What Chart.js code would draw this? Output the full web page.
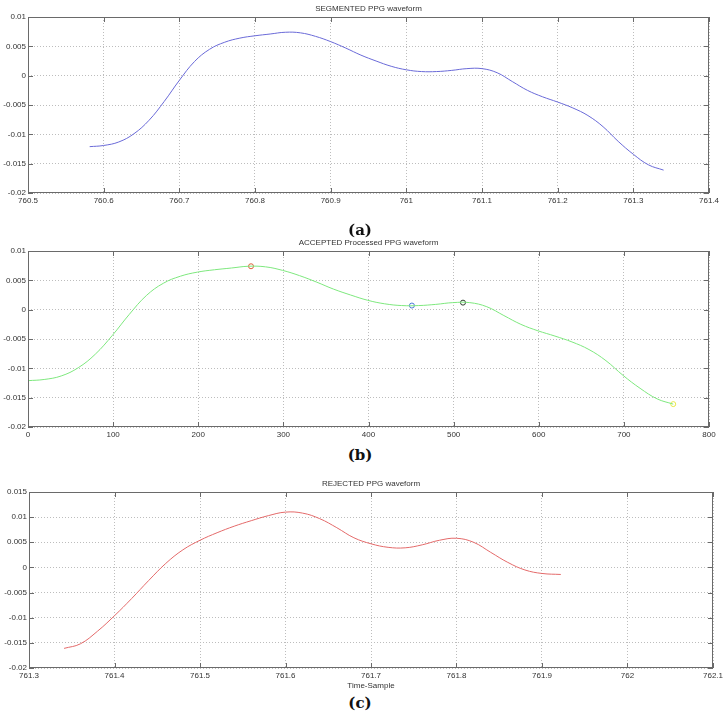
<!DOCTYPE html>
<html>
<head>
<meta charset="utf-8">
<script src="https://cdn.jsdelivr.net/npm/chart.js@4.4.1/dist/chart.umd.min.js"></script>
<style>
	body { margin: 0; background: #fff; }
	#page { position: relative; width: 727px; height: 721px; overflow: hidden; }
	canvas { position: absolute; left: 0; }
	.caption {
		position: absolute; left: 0; width: 720px; text-align: center;
		font: bold 15px "DejaVu Serif", serif; color: #111; line-height: 18px;
	}
</style>
</head>
<body>
<div id="page">
	<canvas id="segmented" width="727" height="212" style="top:0px"></canvas>
	<canvas id="accepted" width="727" height="212" style="top:234px"></canvas>
	<canvas id="rejected" width="727" height="216" style="top:475px"></canvas>
	<div class="caption" style="top:221px">(a)</div>
	<div class="caption" style="top:446px">(b)</div>
	<div class="caption" style="top:694px">(c)</div>
</div>
<script>
// (a) segmented waveform, time in s
const segTime = [760.5815, 760.60, 760.62, 760.64, 760.66, 760.68, 760.70, 760.72, 760.74, 760.76, 760.78, 760.80, 760.82, 760.84, 760.86, 760.88, 760.90, 760.92, 760.94, 760.96, 760.98, 761.00, 761.02, 761.04, 761.06, 761.08, 761.10, 761.12, 761.14, 761.16, 761.18, 761.20, 761.22, 761.24, 761.26, 761.28, 761.30, 761.32, 761.34]
const segValue = [-0.0121, -0.0119, -0.0113, -0.0099, -0.0076, -0.0044, -0.0008, 0.0024, 0.0045, 0.0057, 0.0064, 0.0068, 0.0071, 0.0074, 0.0073, 0.0067, 0.0058, 0.0047, 0.0035, 0.0025, 0.0016, 0.0010, 0.0007, 0.0007, 0.0009, 0.0012, 0.0012, 0.0005, -0.0010, -0.0025, -0.0036, -0.0045, -0.0055, -0.0068, -0.0087, -0.0112, -0.0134, -0.0152, -0.0161]

// (b) accepted processed waveform, sample index
const accSample = [0, 19, 39, 59, 79, 99, 119, 139, 159, 179, 199, 219, 239, 259, 279, 299, 319, 339, 359, 379, 399, 419, 439, 459, 479, 499, 519, 539, 559, 579, 599, 619, 639, 659, 679, 699, 719, 739, 758]
const accValue = [-0.0121, -0.0119, -0.0113, -0.0099, -0.0076, -0.0044, -0.0008, 0.0024, 0.0045, 0.0057, 0.0064, 0.0068, 0.0071, 0.0074, 0.0073, 0.0067, 0.0058, 0.0047, 0.0035, 0.0025, 0.0016, 0.0010, 0.0007, 0.0007, 0.0009, 0.0012, 0.0012, 0.0005, -0.0010, -0.0025, -0.0036, -0.0045, -0.0055, -0.0068, -0.0087, -0.0112, -0.0134, -0.0152, -0.0161]
// fiducial markers on (b)
const markSample = [262, 451, 511, 758]
const markValue = [0.0074, 0.0007, 0.0012, -0.0161]
const markColor = ["#e0603a", "#4a78d8", "#2f3f2f", "#e8e84a"]

// (c) rejected waveform, time in s
const rejTime = [761.341, 761.36, 761.38, 761.40, 761.42, 761.44, 761.46, 761.48, 761.50, 761.52, 761.54, 761.56, 761.58, 761.60, 761.62, 761.64, 761.66, 761.68, 761.70, 761.72, 761.74, 761.76, 761.78, 761.80, 761.82, 761.84, 761.86, 761.88, 761.90, 761.922]
const rejValue = [-0.0161, -0.0152, -0.0127, -0.0096, -0.0062, -0.0026, 0.0008, 0.0035, 0.0054, 0.0069, 0.0082, 0.0093, 0.0103, 0.0110, 0.0108, 0.0097, 0.0079, 0.0059, 0.0047, 0.0040, 0.0039, 0.0045, 0.0054, 0.0058, 0.0050, 0.0030, 0.0010, -0.0005, -0.0012, -0.0014]

const FONT = "Liberation Sans"
const TEXT = "#333"

function toPoints(xs, ys) {
	return xs.map((x, i) => ({ x: x, y: ys[i] }))
}

function fmt(v) {
	return String(Number(v.toFixed(4)))
}

// matlab style box, inward ticks and title over the plot
const matlabBox = {
	id: "matlabBox",
	afterDraw(chart, args, opts) {
		const ctx = chart.ctx
		const a = chart.chartArea
		const sx = chart.scales.x
		const sy = chart.scales.y
		ctx.save()
		ctx.strokeStyle = "#6a6a6a"
		ctx.lineWidth = 1
		ctx.strokeRect(a.left + 0.5, a.top + 0.5, a.right - a.left - 1, a.bottom - a.top - 1)
		ctx.beginPath()
		sy.ticks.forEach(t => {
			const y = Math.round(sy.getPixelForValue(t.value)) + 0.5
			ctx.moveTo(a.left, y); ctx.lineTo(a.left + 5, y)
			ctx.moveTo(a.right - 5, y); ctx.lineTo(a.right, y)
		})
		sx.ticks.forEach(t => {
			const x = Math.round(sx.getPixelForValue(t.value)) + 0.5
			ctx.moveTo(x, a.bottom); ctx.lineTo(x, a.bottom - 5)
			ctx.moveTo(x, a.top); ctx.lineTo(x, a.top + 5)
		})
		ctx.stroke()
		ctx.fillStyle = TEXT
		ctx.font = "8px " + FONT
		ctx.textAlign = "center"
		ctx.textBaseline = "middle"
		ctx.fillText(opts.title, (a.left + a.right) / 2, a.top - 8)
		ctx.restore()
	}
}

function makeChart(id, cfg) {
	const tickFont = { family: FONT, size: 8 }
	const xScale = {
		type: "linear",
		min: cfg.xMin, max: cfg.xMax,
		ticks: { stepSize: cfg.xStep, color: TEXT, font: tickFont, padding: 3, maxRotation: 0, autoSkip: false, callback: fmt },
		grid: { color: "#bdbdbd", drawTicks: false },
		border: { display: false, dash: [1, 2] },
		afterFit: s => { s.height = cfg.xHeight || 19 }
	}
	if (cfg.xTitle) {
		xScale.title = { display: true, text: cfg.xTitle, color: TEXT, font: tickFont, padding: 0 }
	}
	return new Chart(document.getElementById(id), {
		type: "line",
		data: { datasets: cfg.datasets },
		options: {
			responsive: false,
			animation: false,
			layout: { padding: { top: 17, right: cfg.padRight, left: 0, bottom: 0 } },
			plugins: {
				legend: { display: false },
				tooltip: { enabled: false },
				matlabBox: { title: cfg.title }
			},
			scales: {
				x: xScale,
				y: {
					min: cfg.yMin, max: cfg.yMax,
					ticks: { stepSize: 0.005, color: TEXT, font: tickFont, padding: 2, callback: fmt },
					grid: { color: "#bdbdbd", drawTicks: false },
					border: { display: false, dash: [1, 2] },
					afterFit: s => { s.width = cfg.yWidth }
				}
			}
		},
		plugins: [matlabBox]
	})
}

function waveLine(points, color) {
	return {
		data: points,
		borderColor: color,
		borderWidth: 1,
		pointRadius: 0,
		tension: 0.4,
		fill: false
	}
}

makeChart("segmented", {
	title: "SEGMENTED PPG waveform",
	xMin: 760.5, xMax: 761.4, xStep: 0.1,
	yMin: -0.02, yMax: 0.01,
	yWidth: 28, padRight: 18,
	datasets: [waveLine(toPoints(segTime, segValue), "#6a6ad8")]
})

makeChart("accepted", {
	title: "ACCEPTED Processed PPG waveform",
	xMin: 0, xMax: 800, xStep: 100,
	yMin: -0.02, yMax: 0.01,
	yWidth: 28, padRight: 18,
	datasets: [
		waveLine(toPoints(accSample, accValue), "#7ee87e"),
		{
			data: toPoints(markSample, markValue),
			showLine: false,
			pointRadius: 2.5,
			pointBorderWidth: 1,
			pointBackgroundColor: "rgba(255,255,255,0)",
			pointBorderColor: markColor
		}
	]
})

makeChart("rejected", {
	title: "REJECTED PPG waveform",
	xMin: 761.3, xMax: 762.1, xStep: 0.1,
	yMin: -0.02, yMax: 0.015,
	yWidth: 29, padRight: 14,
	xHeight: 23, xTitle: "Time-Sample",
	datasets: [waveLine(toPoints(rejTime, rejValue), "#e46a6a")]
})
</script>
</body>
</html>
